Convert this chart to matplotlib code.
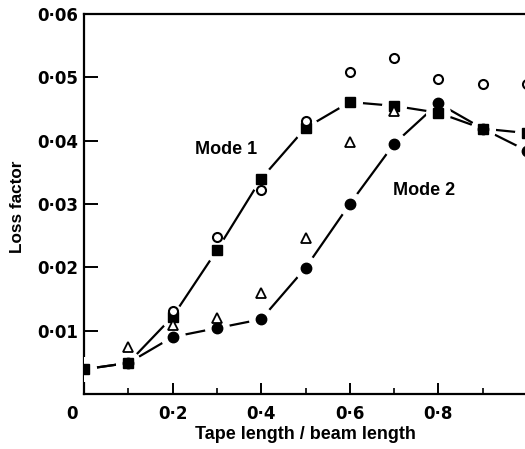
import matplotlib
matplotlib.use("Agg")
import matplotlib.pyplot as plt
import matplotlib.transforms as mtransforms
from matplotlib.ticker import FixedLocator

plt.rcParams['font.family'] = ['Liberation Sans', 'DejaVu Sans']

# Data
x = [0.0, 0.1, 0.2, 0.3, 0.4, 0.5, 0.6, 0.7, 0.8, 0.9, 1.0]
mode1 = [0.0039, 0.0049, 0.0122, 0.0227, 0.0340, 0.0420, 0.0461, 0.0455, 0.0444, 0.0419, 0.0412]
mode2 = [0.0039, 0.0049, 0.0090, 0.0104, 0.0118, 0.0199, 0.0300, 0.0395, 0.0459, 0.0419, 0.0384]
open_circ_x = [0.2, 0.3, 0.4, 0.5, 0.6, 0.7, 0.8, 0.9, 1.0]
open_circ_y = [0.0131, 0.0248, 0.0322, 0.0431, 0.0509, 0.0530, 0.0497, 0.0490, 0.0490]
tri_x = [0.1, 0.2, 0.3, 0.4, 0.5, 0.6, 0.7]
tri_y = [0.0074, 0.0109, 0.0120, 0.0160, 0.0246, 0.0398, 0.0447]
yticks = [0.01, 0.02, 0.03, 0.04, 0.05, 0.06]
ytick_labels = ['0·01', '0·02', '0·03', '0·04', '0·05', '0·06']
xticks = [0.0, 0.2, 0.4, 0.6, 0.8, 1.0]
xtick_labels = ['0', '0·2', '0·4', '0·6', '0·8', '1']

fig = plt.figure(figsize=(5.25, 4.49), dpi=100)
ax = fig.add_axes([84/525, 55/449, 443/525, 380/449])

lw = 1.6
# lines
ax.plot(x, mode1, color='black', lw=lw, zorder=2, solid_capstyle='butt')
ax.plot(x, mode2, color='black', lw=lw, zorder=2, solid_capstyle='butt')
# white halos to create gaps near markers
ax.plot(x, mode1, ls='none', marker='o', ms=17, mfc='white', mec='white', zorder=3)
ax.plot(x, mode2, ls='none', marker='o', ms=17, mfc='white', mec='white', zorder=3)
# markers
ax.plot(x[1:], mode2[1:], ls='none', marker='o', ms=7.5, mfc='black', mec='black', zorder=4)
ax.plot(x, mode1, ls='none', marker='s', ms=7, mfc='black', mec='black', zorder=5)
ax.plot(open_circ_x, open_circ_y, ls='none', marker='o', ms=6.5, mfc='white', mec='black', mew=1.5, zorder=6)
ax.plot(tri_x, tri_y, ls='none', marker='^', ms=7.5, mfc='white', mec='black', mew=1.3, zorder=6)

ax.text(0.250, 0.0386, 'Mode 1', fontsize=13, fontweight='bold', ha='left', va='center')
ax.text(0.697, 0.0322, 'Mode 2', fontsize=13, fontweight='bold', ha='left', va='center')

ax.set_xlim(0, 1.0)
ax.set_ylim(0, 0.06)
ax.set_yticks(yticks)
ax.set_yticklabels(ytick_labels)
ax.set_xticks(xticks)
ax.set_xticklabels(xtick_labels)
ax.xaxis.set_minor_locator(FixedLocator([0.1, 0.3, 0.5, 0.7, 0.9]))

ax.tick_params(axis='both', which='major', direction='in', labelsize=12, width=1.4, color='black')
ax.tick_params(axis='y', which='major', length=10, pad=4)
ax.tick_params(axis='x', which='major', length=8, pad=8)
ax.tick_params(axis='x', which='minor', direction='in', length=4, width=1.2)
for lab in ax.get_xticklabels() + ax.get_yticklabels():
    lab.set_fontweight('bold')
    lab.set_family('DejaVu Sans')

# shift the "0" label slightly left and the "1" label right as in the reference
xl = ax.get_xticklabels()
xl[0].set_transform(xl[0].get_transform() + mtransforms.ScaledTranslation(-12/100, 0, fig.dpi_scale_trans))
xl[-1].set_transform(xl[-1].get_transform() + mtransforms.ScaledTranslation(5/100, 0, fig.dpi_scale_trans))

ax.set_xlabel('Tape length / beam length', fontsize=13, fontweight='bold')
ax.set_ylabel('Loss factor', fontsize=12.3, fontweight='bold')
ax.xaxis.set_label_coords(0.5, -0.083)
ax.yaxis.set_label_coords(-0.133, 0.492)

for s in ax.spines.values():
    s.set_linewidth(1.6)

fig.savefig('out.png', dpi=100)
